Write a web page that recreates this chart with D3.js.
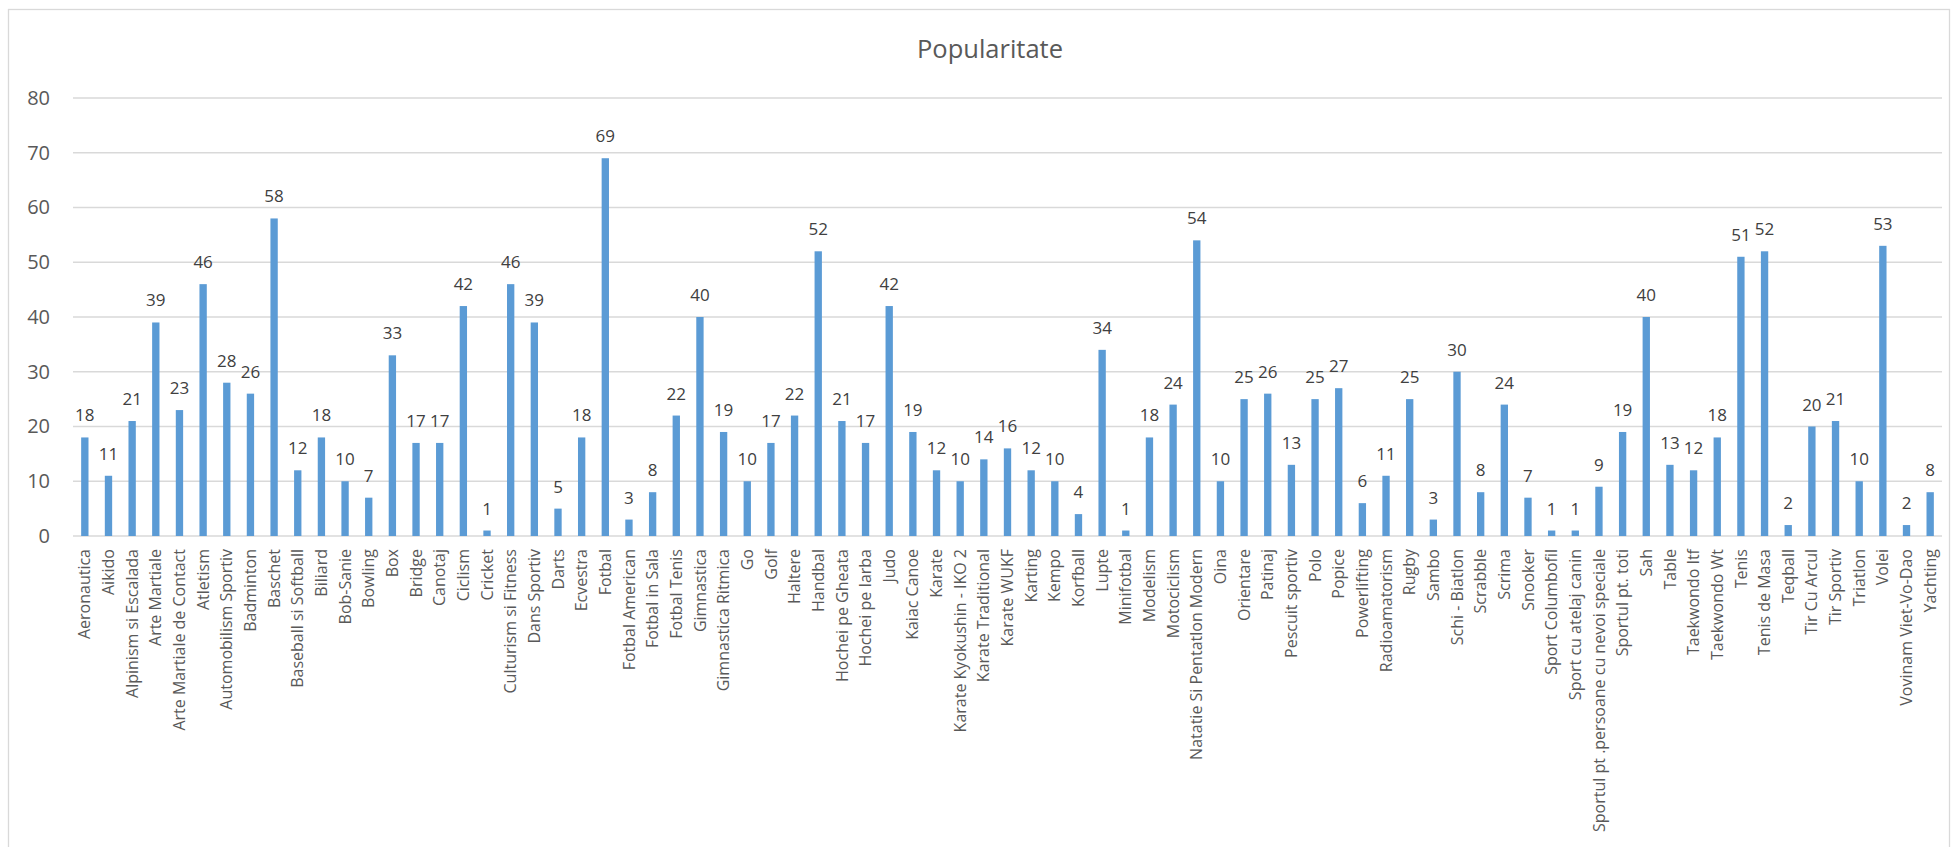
<!DOCTYPE html>
<html>
<head>
<meta charset="utf-8">
<script src="https://cdn.jsdelivr.net/npm/d3@7"></script>
<style>
  body { margin: 0; background: #fff; }
  svg { display: block; font-family: "Open Sans", sans-serif; }
</style>
</head>
<body>
<svg id="chart"></svg>
<script>
const categories = [
  "Aeronautica", "Aikido", "Alpinism si Escalada", "Arte Martiale", "Arte Martiale de Contact",
  "Atletism", "Automobilism Sportiv", "Badminton", "Baschet", "Baseball si Softball",
  "Biliard", "Bob-Sanie", "Bowling", "Box", "Bridge", "Canotaj", "Ciclism", "Cricket",
  "Culturism si Fitness", "Dans Sportiv", "Darts", "Ecvestra", "Fotbal", "Fotbal American",
  "Fotbal in Sala", "Fotbal Tenis", "Gimnastica", "Gimnastica Ritmica", "Go", "Golf",
  "Haltere", "Handbal", "Hochei pe Gheata", "Hochei pe Iarba", "Judo", "Kaiac Canoe",
  "Karate", "Karate Kyokushin - IKO 2", "Karate Traditional", "Karate WUKF", "Karting",
  "Kempo", "Korfball", "Lupte", "Minifotbal", "Modelism", "Motociclism",
  "Natatie Si Pentatlon Modern", "Oina", "Orientare", "Patinaj", "Pescuit sportiv", "Polo",
  "Popice", "Powerlifting", "Radioamatorism", "Rugby", "Sambo", "Schi - Biatlon", "Scrabble",
  "Scrima", "Snooker", "Sport Columbofil", "Sport cu atelaj canin",
  "Sportul pt .persoane cu nevoi speciale", "Sportul pt. toti", "Sah", "Table",
  "Taekwondo Itf", "Taekwondo Wt", "Tenis", "Tenis de Masa", "Teqball", "Tir Cu Arcul",
  "Tir Sportiv", "Triatlon", "Volei", "Vovinam Viet-Vo-Dao", "Yachting"
];

const values = [
  18, 11, 21, 39, 23, 46, 28, 26, 58, 12,
  18, 10, 7, 33, 17, 17, 42, 1, 46, 39,
  5, 18, 69, 3, 8, 22, 40, 19, 10, 17,
  22, 52, 21, 17, 42, 19, 12, 10, 14, 16,
  12, 10, 4, 34, 1, 18, 24, 54, 10, 25,
  26, 13, 25, 27, 6, 11, 25, 3, 30, 8,
  24, 7, 1, 1, 9, 19, 40, 13, 12, 18,
  51, 52, 2, 20, 21, 10, 53, 2, 8
];

const yTicks = [0, 10, 20, 30, 40, 50, 60, 70, 80];
const title = "Popularitate";

const size = { width: 1955, height: 847 };
const margin = { top: 98, right: 13, bottom: 311, left: 73 };

const svg = d3.select("#chart")
  .attr("width", size.width)
  .attr("height", size.height);

// chart area border
svg.append("rect")
  .attr("x", 8.5)
  .attr("y", 9.5)
  .attr("width", 1941)
  .attr("height", 860)
  .attr("fill", "#fff")
  .attr("stroke", "#d9d9d9")
  .attr("stroke-width", 1.3);

const x = d3.scaleBand()
  .domain(categories)
  .range([margin.left, size.width - margin.right])
  .paddingInner(0.69)
  .paddingOuter(0.345);

const y = d3.scaleLinear()
  .domain([0, 80])
  .range([size.height - margin.bottom, margin.top]);

// gridlines
svg.append("g")
  .selectAll("line")
  .data(yTicks)
  .join("line")
  .attr("x1", margin.left)
  .attr("x2", size.width - margin.right)
  .attr("y1", (d) => y(d))
  .attr("y2", (d) => y(d))
  .attr("stroke", "#d9d9d9")
  .attr("stroke-width", (d) => (d === 0 ? 1.6 : 1.3));

// y axis labels
const yAxis = svg.append("g")
  .attr("transform", `translate(${margin.left}, 0)`)
  .call(d3.axisLeft(y).tickValues(yTicks).tickSize(0).tickPadding(23));
yAxis.select(".domain").remove();
yAxis.selectAll("text")
  .style("font-family", "'Open Sans', sans-serif")
  .style("font-size", "20px")
  .attr("fill", "#595959");

// bars
svg.append("g")
  .attr("fill", "#5b9bd5")
  .selectAll("rect")
  .data(values)
  .join("rect")
  .attr("x", (d, i) => x(categories[i]))
  .attr("width", x.bandwidth())
  .attr("y", (d) => y(d))
  .attr("height", (d) => y(0) - y(d));

// value labels
svg.append("g")
  .selectAll("text")
  .data(values)
  .join("text")
  .attr("x", (d, i) => x(categories[i]) + x.bandwidth() / 2)
  .attr("y", (d) => y(d) - 16)
  .attr("text-anchor", "middle")
  .style("font-size", "17px")
  .attr("fill", "#404040")
  .text((d) => d);

// category labels
const xAxis = svg.append("g")
  .attr("transform", `translate(0, ${y(0)})`)
  .call(d3.axisBottom(x).tickSize(0));
xAxis.select(".domain").remove();
xAxis.selectAll("text")
  .attr("transform", "rotate(-90)")
  .attr("x", -13)
  .attr("y", 0)
  .attr("dy", "0.35em")
  .style("text-anchor", "end")
  .style("font-family", "'Open Sans', sans-serif")
  .style("font-size", "16px")
  .attr("fill", "#595959");

// title
svg.append("text")
  .attr("x", 990)
  .attr("y", 58)
  .attr("text-anchor", "middle")
  .style("font-size", "25.5px")
  .attr("fill", "#595959")
  .text(title);
</script>
</body>
</html>
